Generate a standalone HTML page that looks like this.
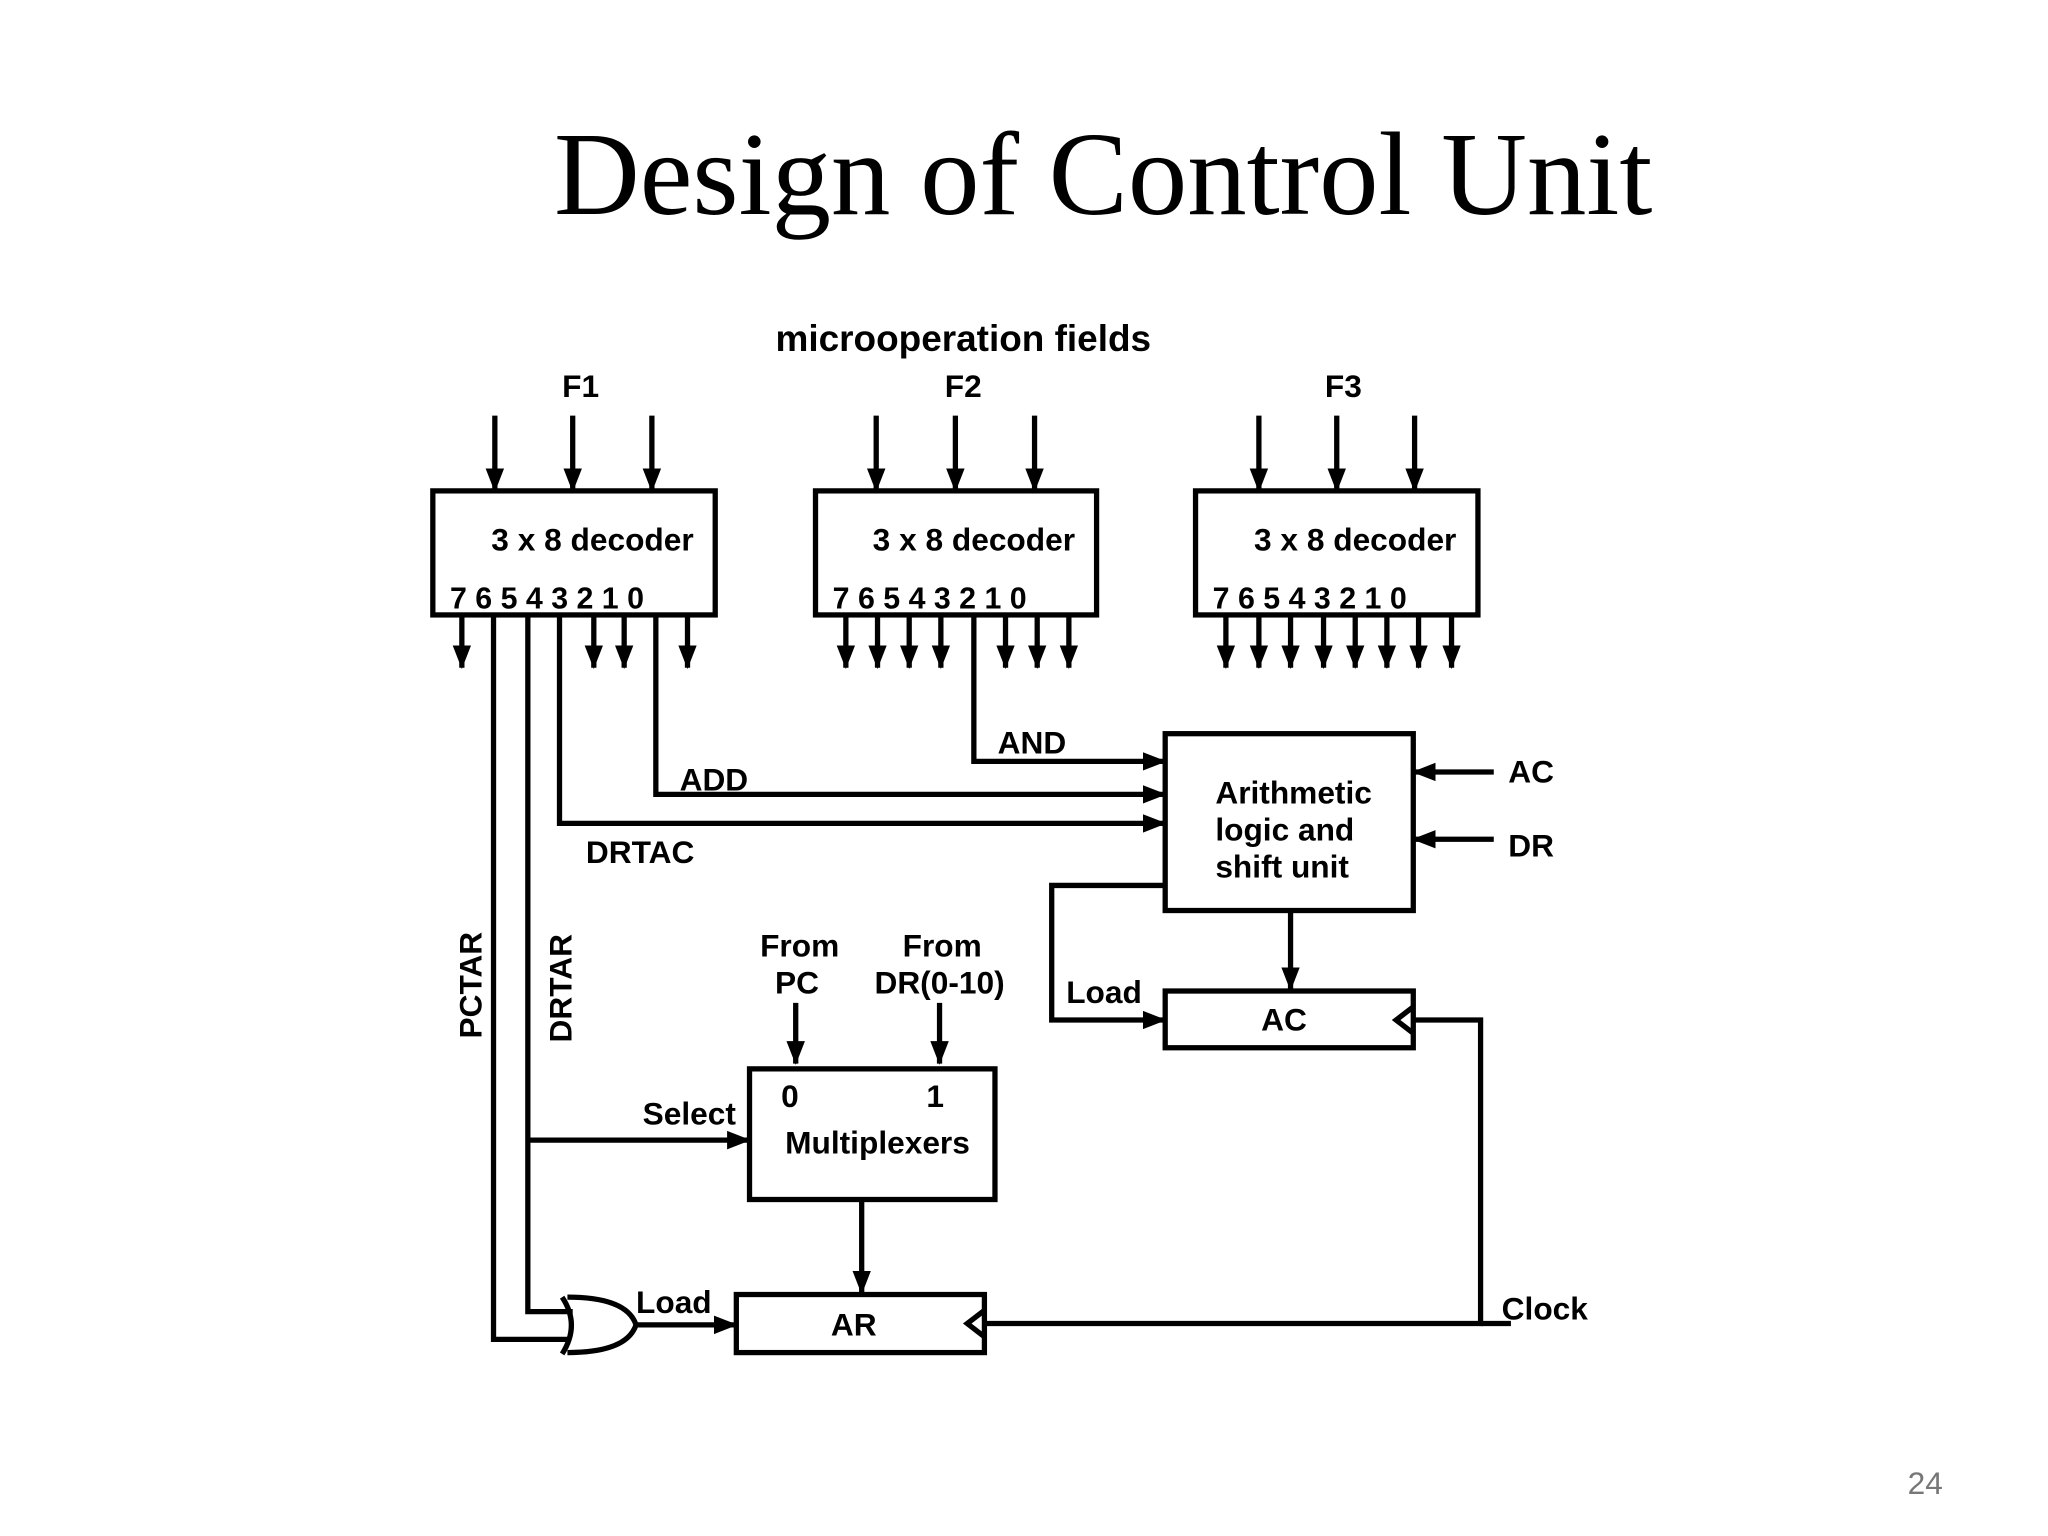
<!DOCTYPE html>
<html><head><meta charset="utf-8"><style>html,body{margin:0;padding:0;background:#fff}svg{display:block}</style></head>
<body>
<svg width="2048" height="1536" viewBox="0 0 1552 1164" xmlns="http://www.w3.org/2000/svg">
<defs>
<marker id="a" markerWidth="8" markerHeight="8" refX="7" refY="4" orient="auto" markerUnits="userSpaceOnUse" viewBox="0 0 8 8"><path d="M0,0 L8,4 L0,8z" fill="#000"/></marker>
<marker id="b" markerWidth="18" markerHeight="18" refX="17" refY="9" orient="auto" markerUnits="userSpaceOnUse" viewBox="0 0 18 18"><path d="M0,2 L18,9 L0,16z" fill="#000"/></marker>
</defs>
<rect width="1552" height="1164" fill="#fff"/>
<text x="836" y="162" font-family="Liberation Serif, serif" font-size="90" text-anchor="middle">Design of Control Unit</text>
<text x="1459" y="1132" font-family="Liberation Sans, sans-serif" font-size="24" fill="#777" text-anchor="middle">24</text>
<g font-family="Liberation Sans, sans-serif" font-weight="bold" font-size="24" fill="#000">
<text x="730" y="266" text-anchor="middle" font-size="28">microoperation fields</text>
<text x="440" y="301" text-anchor="middle">F1</text>
<text x="730" y="301" text-anchor="middle">F2</text>
<text x="1018" y="301" text-anchor="middle">F3</text>
<g text-anchor="middle">
<text x="449" y="417">3 x 8 decoder</text>
<text x="738" y="417">3 x 8 decoder</text>
<text x="1027" y="417">3 x 8 decoder</text>
</g>
<g font-size="23">
<text x="341" y="461">7 6 5 4  3 2 1  0</text>
<text x="631" y="461">7 6 5 4  3  2 1  0</text>
<text x="919" y="461">7 6 5 4  3 2 1  0</text>
</g>
<text x="756" y="571">AND</text>
<text x="515" y="599">ADD</text>
<text x="444" y="654">DRTAC</text>
<text x="921" y="609">Arithmetic</text>
<text x="921" y="637">logic and</text>
<text x="921" y="665">shift unit</text>
<text x="1143" y="593">AC</text>
<text x="1143" y="649">DR</text>
<text x="808" y="760">Load</text>
<text x="973" y="781" text-anchor="middle">AC</text>
<text x="606" y="725" text-anchor="middle">From</text>
<text x="604" y="753" text-anchor="middle">PC</text>
<text x="714" y="725" text-anchor="middle">From</text>
<text x="712" y="753" text-anchor="middle">DR(0-10)</text>
<text x="592" y="839">0</text>
<text x="702" y="839">1</text>
<text x="595" y="874">Multiplexers</text>
<text x="487" y="852">Select</text>
<text x="482" y="995">Load</text>
<text x="647" y="1012" text-anchor="middle">AR</text>
<text x="1138" y="1000">Clock</text>
<text transform="translate(365,787) rotate(-90)">PCTAR</text>
<text transform="translate(433,790) rotate(-90)">DRTAR</text>
</g>
<g stroke="#000" stroke-width="4" fill="none">
<rect x="328" y="372" width="214" height="94"/>
<rect x="618" y="372" width="213" height="94"/>
<rect x="906" y="372" width="214" height="94"/>
<rect x="883" y="556" width="188" height="134"/>
<rect x="883" y="751" width="188" height="43"/>
<rect x="568" y="810" width="186" height="99"/>
<rect x="558" y="981" width="188" height="44"/>
<path d="M1071,763 L1058,773 L1071,783"/>
<path d="M746,993 L733,1003 L746,1013"/>
<!-- OR gate -->
<path d="M426,983 Q440,1004 426,1026"/>
<path d="M430,983 Q475,983 482,1004 Q475,1025 430,1025"/>
</g>
<g stroke="#000" stroke-width="4" fill="none" marker-end="url(#b)">
<path d="M375,315 V372"/><path d="M434,315 V372"/><path d="M494,315 V372"/>
<path d="M664,315 V372"/><path d="M724,315 V372"/><path d="M784,315 V372"/>
<path d="M954,315 V372"/><path d="M1013,315 V372"/><path d="M1072,315 V372"/>
<path d="M350,466 V506"/><path d="M450,466 V506"/><path d="M473,466 V506"/><path d="M521,466 V506"/>
<path d="M641,466 V506"/><path d="M665,466 V506"/><path d="M689,466 V506"/><path d="M713,466 V506"/>
<path d="M762,466 V506"/><path d="M786,466 V506"/><path d="M810,466 V506"/>
<path d="M929,466 V506"/><path d="M954,466 V506"/><path d="M978,466 V506"/><path d="M1003,466 V506"/>
<path d="M1027,466 V506"/><path d="M1051,466 V506"/><path d="M1075,466 V506"/><path d="M1100,466 V506"/>
<path d="M738,466 V577 H883"/>
<path d="M497,466 V602 H883"/>
<path d="M424,466 V624 H883"/>
<path d="M1132,585 H1071"/>
<path d="M1132,636 H1071"/>
<path d="M883,671 H797 V773 H883"/>
<path d="M978,690 V750"/>
<path d="M603,760 V806"/>
<path d="M712,760 V806"/>
<path d="M400,864 H568"/>
<path d="M653,909 V980"/>
<path d="M482,1004 H558"/>
</g>
<g stroke="#000" stroke-width="4" fill="none">
<path d="M374,466 V1015 H432"/>
<path d="M400,466 V994 H434"/>
<path d="M1071,773 H1122 V1003 H746"/>
<path d="M1122,1003 H1145"/>
</g>
</svg>
</body></html>
